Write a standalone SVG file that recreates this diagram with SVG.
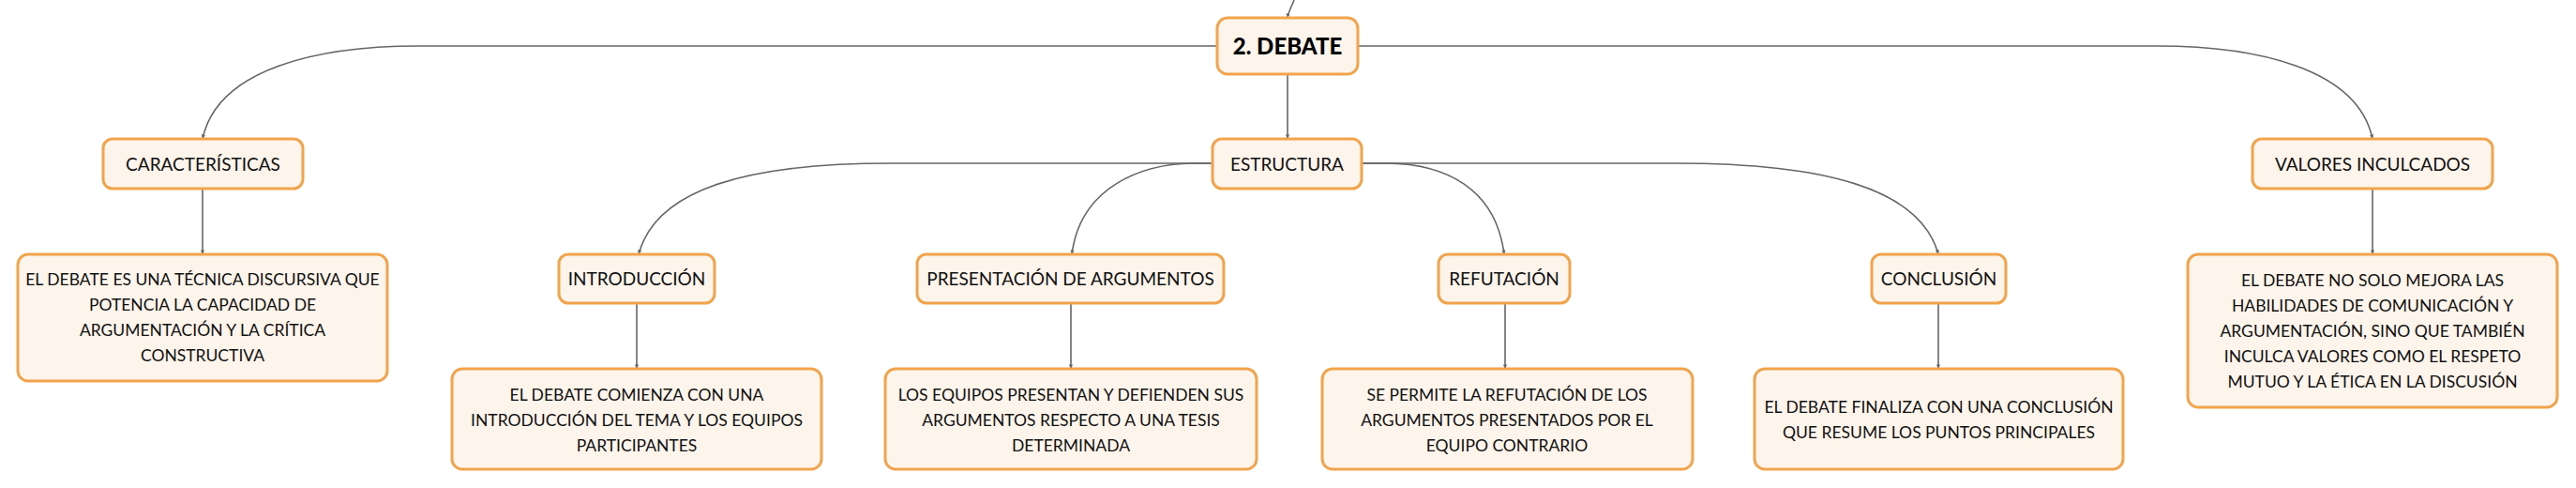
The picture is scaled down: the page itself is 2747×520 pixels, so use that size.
<svg xmlns="http://www.w3.org/2000/svg" width="2747" height="520" viewBox="0 0 2747 520">
<defs>
<marker id="arr" viewBox="0 0 10 10" refX="9" refY="5" markerWidth="3.2" markerHeight="3.2" orient="auto-start-reverse">
<path d="M0,1 L10,5 L0,9 z" fill="#666"/>
</marker>
<style>
.box{fill:#fdf4eb;stroke:#f2a44c;stroke-width:3}
.lbl{font-family:Lato,"Open Sans",sans-serif;font-size:19px;fill:#111;text-anchor:middle}
.txt{font-family:Lato,"Open Sans",sans-serif;font-size:17.5px;fill:#111;text-anchor:middle}
.ttl{font-family:Lato,"Open Sans",sans-serif;font-size:24px;font-weight:900;fill:#000;text-anchor:middle}
.con{fill:none;stroke:#666;stroke-width:1.6;marker-end:url(#arr)}
</style>
</defs>
<rect width="2747" height="520" fill="#fff"/>
<g id="connectors">
<path class="con" d="M1380,0 C1377,8 1374,12 1373,19"/>
<path class="con" d="M1298,49 L446,49 C342,49 232,72 216,148"/>
<path class="con" d="M1448,49 L2300,49 C2404,49 2514,72 2530,148"/>
<path class="con" d="M1373,79 L1373,148"/>
<path class="con" d="M1293,174 L950,174 C800,174 700,200 681,271"/>
<path class="con" d="M1293,174 L1275,174 C1216,174 1152,200 1143,271"/>
<path class="con" d="M1452,174 L1478,174 C1540,174 1595,200 1604,271"/>
<path class="con" d="M1452,174 L1787,174 C1943,174 2048,200 2067,271"/>
<path class="con" d="M216,201 L216,271"/>
<path class="con" d="M679,323 L679,393"/>
<path class="con" d="M1142,323 L1142,393"/>
<path class="con" d="M1605,323 L1605,393"/>
<path class="con" d="M2067,323 L2067,393"/>
<path class="con" d="M2530,201 L2530,271"/>
</g>
<g id="debate">
<rect class="box" x="1298" y="19" width="150" height="60" rx="11"/>
<text class="ttl" x="1373" y="57.5">2. DEBATE</text>
</g>
<g id="caracteristicas">
<rect class="box" x="110" y="148" width="213" height="53" rx="10"/>
<text class="lbl" x="216.5" y="181.5">CARACTERÍSTICAS</text>
</g>
<g id="estructura">
<rect class="box" x="1293" y="148" width="159" height="53" rx="10"/>
<text class="lbl" x="1372.5" y="181.5">ESTRUCTURA</text>
</g>
<g id="valores">
<rect class="box" x="2402" y="148" width="256" height="53" rx="10"/>
<text class="lbl" x="2530" y="181.5">VALORES INCULCADOS</text>
</g>
<g id="introduccion">
<rect class="box" x="596" y="271" width="166" height="52" rx="10"/>
<text class="lbl" x="679" y="303.5">INTRODUCCIÓN</text>
</g>
<g id="presentacion">
<rect class="box" x="978" y="271" width="327" height="52" rx="10"/>
<text class="lbl" x="1141.5" y="303.5">PRESENTACIÓN DE ARGUMENTOS</text>
</g>
<g id="refutacion">
<rect class="box" x="1534" y="271" width="140" height="52" rx="10"/>
<text class="lbl" x="1604" y="303.5">REFUTACIÓN</text>
</g>
<g id="conclusion">
<rect class="box" x="1996" y="271" width="143" height="52" rx="10"/>
<text class="lbl" x="2067.5" y="303.5">CONCLUSIÓN</text>
</g>
<g id="desc-caracteristicas">
<rect class="box" x="19" y="271" width="394" height="135" rx="11"/>
<text class="txt" x="216" y="303.5">EL DEBATE ES UNA TÉCNICA DISCURSIVA QUE</text>
<text class="txt" x="216" y="330.5">POTENCIA LA CAPACIDAD DE</text>
<text class="txt" x="216" y="357.5">ARGUMENTACIÓN Y LA CRÍTICA</text>
<text class="txt" x="216" y="384.5">CONSTRUCTIVA</text>
</g>
<g id="desc-introduccion">
<rect class="box" x="482" y="393" width="394" height="107" rx="11"/>
<text class="txt" x="679" y="426.5">EL DEBATE COMIENZA CON UNA</text>
<text class="txt" x="679" y="453.5">INTRODUCCIÓN DEL TEMA Y LOS EQUIPOS</text>
<text class="txt" x="679" y="480.5">PARTICIPANTES</text>
</g>
<g id="desc-presentacion">
<rect class="box" x="944" y="393" width="396" height="107" rx="11"/>
<text class="txt" x="1142" y="426.5">LOS EQUIPOS PRESENTAN Y DEFIENDEN SUS</text>
<text class="txt" x="1142" y="453.5">ARGUMENTOS RESPECTO A UNA TESIS</text>
<text class="txt" x="1142" y="480.5">DETERMINADA</text>
</g>
<g id="desc-refutacion">
<rect class="box" x="1410" y="393" width="395" height="107" rx="11"/>
<text class="txt" x="1607" y="426.5">SE PERMITE LA REFUTACIÓN DE LOS</text>
<text class="txt" x="1607" y="453.5">ARGUMENTOS PRESENTADOS POR EL</text>
<text class="txt" x="1607" y="480.5">EQUIPO CONTRARIO</text>
</g>
<g id="desc-conclusion">
<rect class="box" x="1871" y="393" width="393" height="107" rx="11"/>
<text class="txt" x="2067.5" y="439.5">EL DEBATE FINALIZA CON UNA CONCLUSIÓN</text>
<text class="txt" x="2067.5" y="466.5">QUE RESUME LOS PUNTOS PRINCIPALES</text>
</g>
<g id="desc-valores">
<rect class="box" x="2333" y="271" width="394" height="163" rx="11"/>
<text class="txt" x="2530" y="304.5">EL DEBATE NO SOLO MEJORA LAS</text>
<text class="txt" x="2530" y="331.5">HABILIDADES DE COMUNICACIÓN Y</text>
<text class="txt" x="2530" y="358.5">ARGUMENTACIÓN, SINO QUE TAMBIÉN</text>
<text class="txt" x="2530" y="385.5">INCULCA VALORES COMO EL RESPETO</text>
<text class="txt" x="2530" y="412.5">MUTUO Y LA ÉTICA EN LA DISCUSIÓN</text>
</g>
</svg>
